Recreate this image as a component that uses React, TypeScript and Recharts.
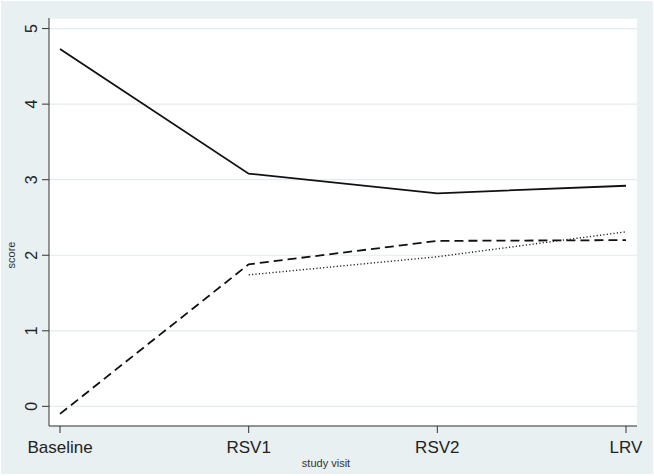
import React from "react";
import { LineChart, Line, XAxis, YAxis, CartesianGrid } from "recharts";

const visits = ["Baseline", "RSV1", "RSV2", "LRV"];
const solidSeries = [4.73, 3.08, 2.82, 2.92];
const dashedSeries = [-0.1, 1.88, 2.19, 2.2];
const dottedSeries: (number | null)[] = [null, 1.74, 1.98, 2.31];
const yTicks = [0, 1, 2, 3, 4, 5];

const data = visits.map((v, i) => ({
  visit: v,
  solid: solidSeries[i],
  dashed: dashedSeries[i],
  dotted: dottedSeries[i],
}));

const FONT = "'Liberation Sans', Arial, sans-serif";

const YTick = (props: any) => {
  const { x, y, payload } = props;
  return (
    <text
      x={x - 2.5}
      y={y}
      transform={`rotate(-90 ${x - 2.5} ${y})`}
      textAnchor="middle"
      fontSize={16}
      fontFamily={FONT}
      fill="#222"
    >
      {payload.value}
    </text>
  );
};

const XTick = (props: any) => {
  const { x, y, payload } = props;
  return (
    <text x={x} y={y + 18} textAnchor="middle" fontSize={17} fontFamily={FONT} fill="#222">
      {payload.value}
    </text>
  );
};

export default function App() {
  return (
    <div
      style={{
        position: "absolute",
        left: 0,
        top: 0,
        width: 654,
        height: 476,
        background: "#ffffff",
      }}
    >
      <div
        style={{
          position: "absolute",
          left: 1,
          top: 1,
          width: 652,
          height: 473,
          background: "#e8f0f1",
        }}
      />
      <div style={{ position: "absolute", left: 0, top: 0 }}>
        <LineChart
          width={654}
          height={476}
          data={data}
          margin={{ top: 18, right: 17, bottom: 0, left: 0 }}
        >
          <CartesianGrid
            vertical={false}
            fill="#ffffff"
            fillOpacity={1}
            stroke="#e3ebee"
            strokeWidth={1.2}
          />
          <XAxis
            dataKey="visit"
            height={50}
            padding={{ left: 11, right: 11 }}
            tick={<XTick />}
            tickSize={7}
            axisLine={{ stroke: "#333", strokeWidth: 1 }}
            tickLine={{ stroke: "#333", strokeWidth: 1 }}
            interval={0}
          />
          <YAxis
            type="number"
            domain={[-0.26, 5.14]}
            ticks={yTicks}
            allowDataOverflow
            width={49}
            tick={<YTick />}
            tickSize={7}
            axisLine={{ stroke: "#333", strokeWidth: 1 }}
            tickLine={{ stroke: "#333", strokeWidth: 1 }}
          />
          <Line
            type="linear"
            dataKey="solid"
            stroke="#111"
            strokeWidth={1.8}
            dot={false}
            isAnimationActive={false}
          />
          <Line
            type="linear"
            dataKey="dashed"
            stroke="#111"
            strokeWidth={1.8}
            strokeDasharray="9 5"
            dot={false}
            isAnimationActive={false}
          />
          <Line
            type="linear"
            dataKey="dotted"
            stroke="#222"
            strokeWidth={1.4}
            strokeDasharray="1.2 2.2"
            dot={false}
            connectNulls={false}
            isAnimationActive={false}
          />
        </LineChart>
      </div>
      <div
        style={{
          position: "absolute",
          left: 0,
          top: 457,
          width: 654,
          textAlign: "center",
          fontFamily: FONT,
          fontSize: 11,
          color: "#333",
          transform: "translateX(-1px)",
        }}
      >
        study visit
      </div>
      <div
        style={{
          position: "absolute",
          left: 11,
          top: 255,
          fontFamily: FONT,
          fontSize: 11,
          color: "#333",
          transform: "translate(-50%, -50%) rotate(-90deg)",
          whiteSpace: "nowrap",
        }}
      >
        score
      </div>
    </div>
  );
}
